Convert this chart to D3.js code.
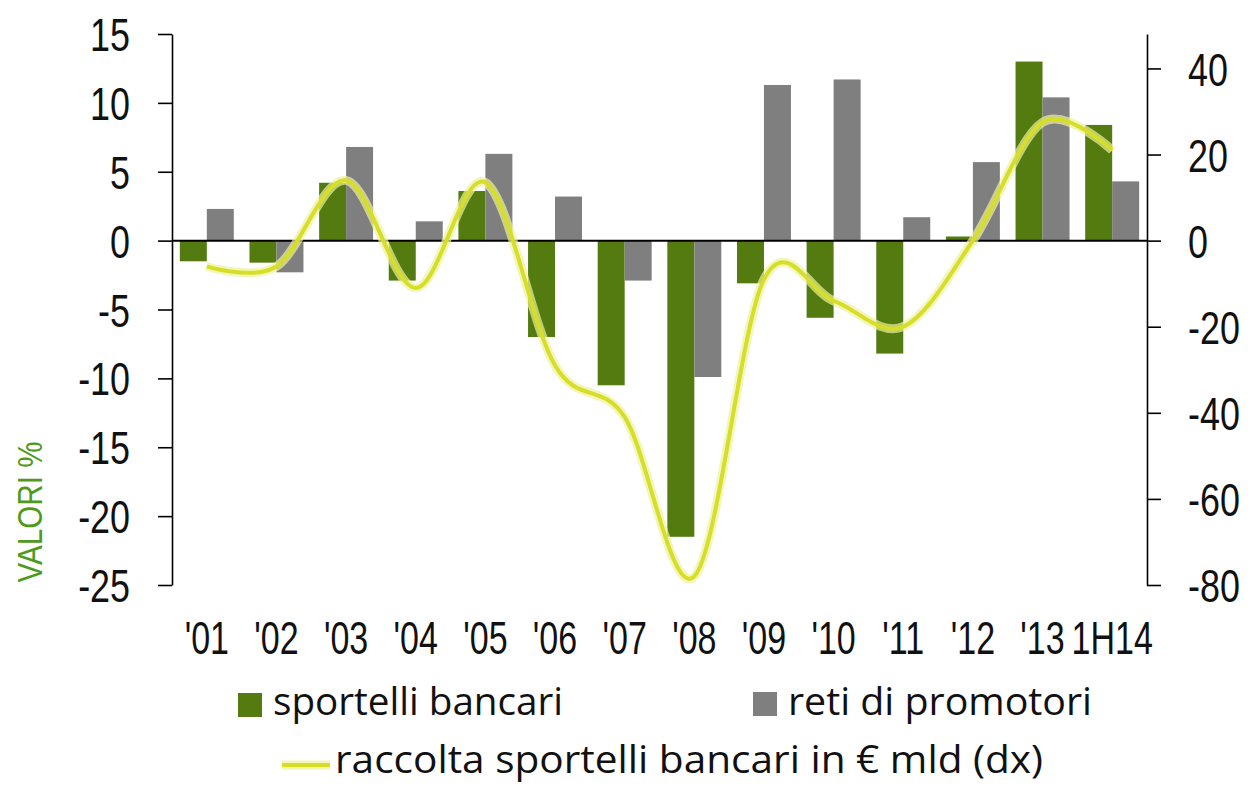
<!DOCTYPE html>
<html>
<head>
<meta charset="utf-8">
<script src="https://cdnjs.cloudflare.com/ajax/libs/d3/7.8.5/d3.min.js"></script>
<style>
  html, body { margin: 0; padding: 0; background: #fff; }
  svg { display: block; }
</style>
</head>
<body>
<svg id="chart" width="1256" height="786"></svg>
<script>
// categories and series
const years = ["'01", "'02", "'03", "'04", "'05", "'06", "'07", "'08", "'09", "'10", "'11", "'12", "'13", "1H14"];
const sportelli = [-1.5, -1.6, 4.2, -2.9, 3.6, -7.0, -10.5, -21.5, -3.1, -5.6, -8.2, 0.3, 13.0, 8.4];
const promotori = [2.3, -2.3, 6.8, 1.4, 6.3, 3.2, -2.9, -9.9, 11.3, 11.7, 1.7, 5.7, 10.4, 4.3];
const raccolta = [-6, -6, 14, -11, 13.5, -29, -41, -78, -9, -14, -20, 0, 27.5, 21];
const leftTicks = [15, 10, 5, 0, -5, -10, -15, -20, -25];
const rightTicks = [40, 20, 0, -20, -40, -60, -80];

const svg = d3.select('#chart');
const numFont = '"Liberation Sans", Arial, sans-serif';
const txtFont = '"Open Sans", "Noto Sans", sans-serif';

const plotLeft = 172, plotRight = 1147, plotTop = 34, plotBottom = 585;

// squeeze text horizontally (the source font is a narrow one)
function condense(sel, k) {
    sel.each(function () {
        const w = this.getComputedTextLength();
        d3.select(this)
            .attr('textLength', w * k)
            .attr('lengthAdjust', 'spacingAndGlyphs');
    });
}

const x = d3.scaleBand()
    .domain(years)
    .range([plotLeft, plotRight])
    .paddingInner(0.225)
    .paddingOuter(0.1125);

const xSub = d3.scaleBand()
    .domain(['s', 'p'])
    .range([0, x.bandwidth()]);

const yL = d3.scaleLinear().domain([-25, 15]).range([plotBottom, plotTop]);
const yR = d3.scaleLinear().domain([-80, 48]).range([plotBottom, plotTop]);

// bars
const g = svg.append('g');
g.selectAll('.bar-s')
    .data(years)
    .enter()
    .append('rect')
    .attr('class', 'bar-s')
    .attr('x', (d) => x(d) + xSub('s'))
    .attr('width', xSub.bandwidth())
    .attr('y', (d, i) => yL(Math.max(0, sportelli[i])))
    .attr('height', (d, i) => Math.abs(yL(sportelli[i]) - yL(0)))
    .attr('fill', '#537b0f');

g.selectAll('.bar-p')
    .data(years)
    .enter()
    .append('rect')
    .attr('class', 'bar-p')
    .attr('x', (d) => x(d) + xSub('p'))
    .attr('width', xSub.bandwidth())
    .attr('y', (d, i) => yL(Math.max(0, promotori[i])))
    .attr('height', (d, i) => Math.abs(yL(promotori[i]) - yL(0)))
    .attr('fill', '#7f7f7f');

// zero line
svg.append('line')
    .attr('x1', plotLeft)
    .attr('x2', plotRight)
    .attr('y1', yL(0))
    .attr('y2', yL(0))
    .style('stroke', '#000')
    .style('stroke-width', 2);

// axes
const fmt = (d) => String(d);
const axisL = svg.append('g')
    .attr('transform', `translate(${plotLeft},0)`)
    .call(d3.axisLeft(yL).tickValues(leftTicks).tickFormat(fmt).tickSize(14).tickSizeOuter(0).tickPadding(28));
const axisR = svg.append('g')
    .attr('transform', `translate(${plotRight},0)`)
    .call(d3.axisRight(yR).tickValues(rightTicks).tickFormat(fmt).tickSize(14).tickSizeOuter(0).tickPadding(27));

[axisL, axisR].forEach((a) => {
    a.select('.domain').style('stroke', '#000').style('stroke-width', 1.6);
    a.selectAll('.tick line').style('stroke', '#000').style('stroke-width', 1.6);
    a.selectAll('.tick text')
        .style('font-family', numFont)
        .style('font-size', '46px')
        .style('fill', '#111')
        .attr('dy', '0.36em')
        .call(condense, 0.78);
});

// category labels (narrowed with a horizontal scale)
svg.append('g')
    .selectAll('text')
    .data(years)
    .enter()
    .append('text')
    .attr('transform', (d) => `translate(${x(d) + x.bandwidth() / 2},654) scale(0.74,1)`)
    .attr('text-anchor', 'middle')
    .style('font-family', numFont)
    .style('font-size', '46px')
    .style('fill', '#111')
    .text((d) => d);

// line (dx)
const line = d3.line()
    .x((d, i) => x(years[i]) + x.bandwidth() / 2)
    .y((d) => yR(d))
    .curve(d3.curveCardinal.tension(0));

svg.append('path')
    .datum(raccolta)
    .attr('d', line)
    .attr('fill', 'none')
    .style('stroke', '#eef29c')
    .style('stroke-width', 9)
    .style('opacity', 0.7);
svg.append('path')
    .datum(raccolta)
    .attr('d', line)
    .attr('fill', 'none')
    .style('stroke', '#d6de28')
    .style('stroke-width', 4);

// y title
svg.append('text')
    .attr('transform', 'translate(42,512) rotate(-90)')
    .attr('text-anchor', 'middle')
    .attr('textLength', 141)
    .attr('lengthAdjust', 'spacingAndGlyphs')
    .style('font-family', numFont)
    .style('font-size', '35px')
    .style('fill', '#4f9a1c')
    .text('VALORI %');

// legend
const legend = svg.append('g');
legend.append('rect').attr('x', 238).attr('y', 693).attr('width', 24).attr('height', 24).attr('fill', '#537b0f');
legend.append('text')
    .attr('x', 273).attr('y', 715)
    .attr('textLength', 290).attr('lengthAdjust', 'spacingAndGlyphs')
    .style('font-family', txtFont).style('font-size', '38px').style('fill', '#111')
    .text('sportelli bancari');
legend.append('rect').attr('x', 753).attr('y', 692).attr('width', 24).attr('height', 24).attr('fill', '#7f7f7f');
legend.append('text')
    .attr('x', 788).attr('y', 715)
    .attr('textLength', 304).attr('lengthAdjust', 'spacingAndGlyphs')
    .style('font-family', txtFont).style('font-size', '38px').style('fill', '#111')
    .text('reti di promotori');
legend.append('line')
    .attr('x1', 282).attr('x2', 330).attr('y1', 765).attr('y2', 765)
    .style('stroke', '#eef29c').style('stroke-width', 9).style('opacity', 0.7);
legend.append('line')
    .attr('x1', 282).attr('x2', 330).attr('y1', 765).attr('y2', 765)
    .style('stroke', '#d6de28').style('stroke-width', 4);
legend.append('text')
    .attr('x', 335).attr('y', 773)
    .attr('textLength', 708).attr('lengthAdjust', 'spacingAndGlyphs')
    .style('font-family', txtFont).style('font-size', '38px').style('fill', '#111')
    .text('raccolta sportelli bancari in € mld (dx)');
</script>
</body>
</html>
